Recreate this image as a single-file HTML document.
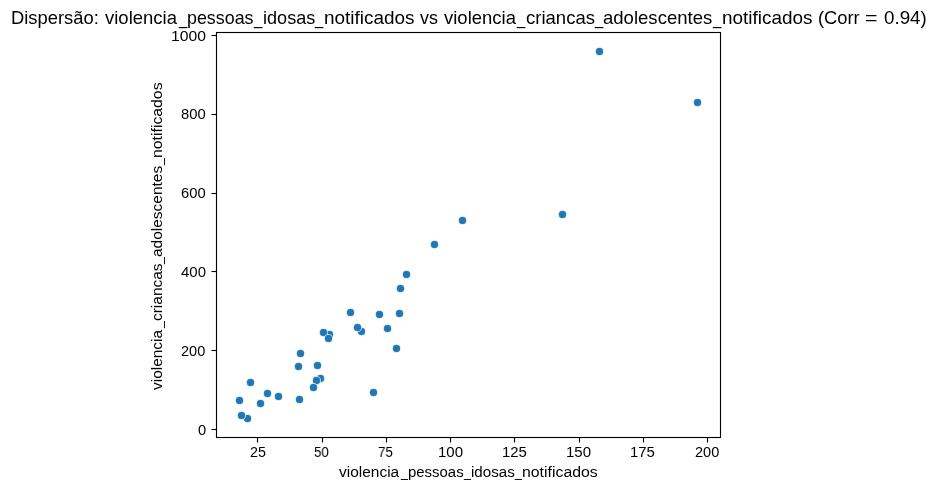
<!DOCTYPE html>
<html><head><meta charset="utf-8"><title>Dispersão: violencia_pessoas_idosas_notificados vs violencia_criancas_adolescentes_notificados</title>
<style>
html,body{margin:0;padding:0;background:#fff;}
#fig{position:relative;width:936px;height:490px;overflow:hidden;background:#fff;}
#fig svg{position:absolute;left:0;top:0;}
.t{position:absolute;white-space:nowrap;line-height:1;color:#000;font-family:"Liberation Sans",sans-serif;font-kerning:none;transform-origin:0 0;will-change:transform;}
.s span{position:absolute;top:0;white-space:pre;transform-origin:0 0;}
</style></head><body>
<div id="fig">
<svg width="936" height="490" viewBox="0 0 936 490">
<g fill="#1f77b4" stroke="#ffffff" stroke-width="0.7">
<circle cx="250.5" cy="382.5" r="4.02"/>
<circle cx="267.5" cy="393.5" r="4.02"/>
<circle cx="278.5" cy="396.5" r="4.02"/>
<circle cx="239.5" cy="400.5" r="4.02"/>
<circle cx="260.5" cy="403.5" r="4.02"/>
<circle cx="247.5" cy="418.5" r="4.02"/>
<circle cx="241.5" cy="415.5" r="4.02"/>
<circle cx="300.5" cy="353.5" r="4.02"/>
<circle cx="298.5" cy="366.5" r="4.02"/>
<circle cx="317.5" cy="365.5" r="4.02"/>
<circle cx="320.5" cy="378.5" r="4.02"/>
<circle cx="316.5" cy="380.5" r="4.02"/>
<circle cx="313.5" cy="387.5" r="4.02"/>
<circle cx="299.5" cy="399.5" r="4.02"/>
<circle cx="350.5" cy="312.5" r="4.02"/>
<circle cx="329.5" cy="334.5" r="4.02"/>
<circle cx="323.5" cy="332.5" r="4.02"/>
<circle cx="328.5" cy="338.5" r="4.02"/>
<circle cx="361.5" cy="331.5" r="4.02"/>
<circle cx="357.5" cy="327.5" r="4.02"/>
<circle cx="406.5" cy="274.5" r="4.02"/>
<circle cx="400.5" cy="288.5" r="4.02"/>
<circle cx="379.5" cy="314.5" r="4.02"/>
<circle cx="399.5" cy="313.5" r="4.02"/>
<circle cx="387.5" cy="328.5" r="4.02"/>
<circle cx="396.5" cy="348.5" r="4.02"/>
<circle cx="373.5" cy="392.5" r="4.02"/>
<circle cx="462.5" cy="220.5" r="4.02"/>
<circle cx="434.5" cy="244.5" r="4.02"/>
<circle cx="562.5" cy="214.5" r="4.02"/>
<circle cx="599.5" cy="51.5" r="4.02"/>
<circle cx="697.5" cy="102.5" r="4.02"/>
</g>
<rect x="216.5" y="32.5" width="504" height="405" fill="none" stroke="#000" stroke-width="1.111" stroke-linecap="square"/>
<g stroke="#000" stroke-width="1.111">
<line x1="257.5" y1="437.5" x2="257.5" y2="442.5"/>
<line x1="322.5" y1="437.5" x2="322.5" y2="442.5"/>
<line x1="386.5" y1="437.5" x2="386.5" y2="442.5"/>
<line x1="450.5" y1="437.5" x2="450.5" y2="442.5"/>
<line x1="514.5" y1="437.5" x2="514.5" y2="442.5"/>
<line x1="579.5" y1="437.5" x2="579.5" y2="442.5"/>
<line x1="643.5" y1="437.5" x2="643.5" y2="442.5"/>
<line x1="707.5" y1="437.5" x2="707.5" y2="442.5"/>
<line x1="211.5" y1="429.5" x2="216.5" y2="429.5"/>
<line x1="211.5" y1="350.5" x2="216.5" y2="350.5"/>
<line x1="211.5" y1="271.5" x2="216.5" y2="271.5"/>
<line x1="211.5" y1="193.5" x2="216.5" y2="193.5"/>
<line x1="211.5" y1="114.5" x2="216.5" y2="114.5"/>
<line x1="211.5" y1="35.5" x2="216.5" y2="35.5"/>
</g>
</svg>
<div class="t s" style="left:10.50px;top:9.20px;font-size:18.958px;transform:none"><span style="left:0.13px;transform:scaleX(0.9702)">Dispersão:</span> <span style="left:94.01px;transform:scaleX(0.9762)">violencia</span><span style="left:167.57px;transform:scaleX(0.7838)">_</span><span style="left:176.18px;transform:scaleX(0.9431)">pessoas</span><span style="left:242.98px;transform:scaleX(0.7838)">_</span><span style="left:251.59px;transform:scaleX(0.9551)">idosas</span><span style="left:304.13px;transform:scaleX(0.7838)">_</span><span style="left:312.63px;transform:scaleX(1.0001)">notificados</span> <span style="left:409.10px;transform:scaleX(0.9450)">vs</span> <span style="left:432.87px;transform:scaleX(0.9762)">violencia</span><span style="left:506.44px;transform:scaleX(0.7838)">_</span><span style="left:514.81px;transform:scaleX(0.9779)">criancas</span><span style="left:584.03px;transform:scaleX(0.7838)">_</span><span style="left:592.49px;transform:scaleX(0.9789)">adolescentes</span><span style="left:702.04px;transform:scaleX(0.7838)">_</span><span style="left:710.54px;transform:scaleX(1.0001)">notificados</span> <span style="left:806.87px;transform:scaleX(0.9658)">(Corr</span> <span style="left:854.24px;transform:scaleX(1.1323)">=</span> <span style="left:873.10px;transform:scaleX(0.9922)">0.94)</span></div>
<div class="t s" style="left:338.94px;top:465.00px;font-size:14.700px;transform:none"><span style="left:0.36px;transform:scaleX(1.0527)">violencia</span><span style="left:61.88px;transform:scaleX(0.8441)">_</span><span style="left:69.08px;transform:scaleX(1.0170)">pessoas</span><span style="left:124.94px;transform:scaleX(0.8441)">_</span><span style="left:132.14px;transform:scaleX(1.0299)">idosas</span><span style="left:176.08px;transform:scaleX(0.8441)">_</span><span style="left:183.19px;transform:scaleX(1.0784)">notificados</span></div>
<div class="t s" style="left:150.00px;top:390.30px;font-size:14.910px;transform:rotate(-90deg)"><span style="left:0.36px;transform:scaleX(1.0351)">violencia</span><span style="left:61.71px;transform:scaleX(0.8299)">_</span><span style="left:68.70px;transform:scaleX(1.0368)">criancas</span><span style="left:126.43px;transform:scaleX(0.8299)">_</span><span style="left:133.48px;transform:scaleX(1.0380)">adolescentes</span><span style="left:224.85px;transform:scaleX(0.8299)">_</span><span style="left:231.94px;transform:scaleX(1.0604)">notificados</span></div>
<div class="t" style="left:250.00px;top:445.00px;font-size:14.290px;transform:scaleX(0.9997)">25</div>
<div class="t" style="left:314.00px;top:445.00px;font-size:14.290px;transform:scaleX(0.9246)">50</div>
<div class="t" style="left:378.00px;top:445.00px;font-size:14.290px;transform:scaleX(0.9298)">75</div>
<div class="t" style="left:438.00px;top:445.00px;font-size:14.290px;transform:scaleX(1.0505)">100</div>
<div class="t" style="left:502.00px;top:445.00px;font-size:14.290px;transform:scaleX(1.0459)">125</div>
<div class="t" style="left:566.00px;top:445.00px;font-size:14.290px;transform:scaleX(1.0505)">150</div>
<div class="t" style="left:630.00px;top:445.00px;font-size:14.290px;transform:scaleX(1.0459)">175</div>
<div class="t" style="left:695.00px;top:445.00px;font-size:14.290px;transform:scaleX(1.0170)">200</div>
<div class="t" style="left:198.00px;top:423.00px;font-size:14.290px;transform:scaleX(1.0262)">0</div>
<div class="t" style="left:181.00px;top:344.00px;font-size:14.290px;transform:scaleX(1.0170)">200</div>
<div class="t" style="left:181.00px;top:265.00px;font-size:14.290px;transform:scaleX(1.0467)">400</div>
<div class="t" style="left:181.00px;top:186.00px;font-size:14.290px;transform:scaleX(1.0314)">600</div>
<div class="t" style="left:181.00px;top:107.00px;font-size:14.290px;transform:scaleX(1.0314)">800</div>
<div class="t" style="left:170.65px;top:29.35px;font-size:14.290px;transform:scaleX(1.1009)">1000</div>
</div>
</body></html>
